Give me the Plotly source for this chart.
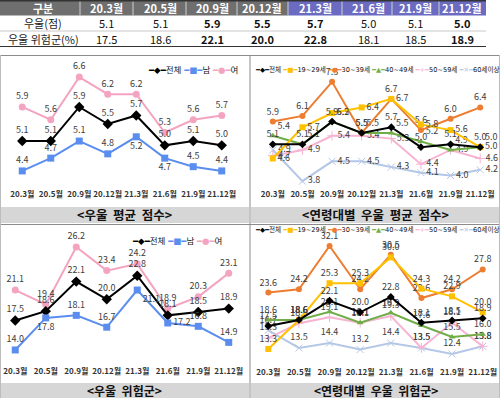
import plotly.graph_objects as go

W, H = 500, 398
def X(p): return p / W
def Y(p): return 1 - p / H

FONT = "Noto Sans CJK KR"
LEGFONT = "DejaVu Sans, Noto Sans CJK KR"

# ---------------- data ----------------
dates = ['20.3월', '20.5월', '20.9월', '20.12월', '21.3월', '21.6월', '21.9월', '21.12월']
age_groups = ['19~29세', '30~39세', '40~49세', '50~59세', '60세이상']

score_total  = [5.1, 5.1, 5.9, 5.5, 5.7, 5.0, 5.1, 5.0]
score_male   = [4.4, 4.7, 5.1, 4.8, 5.2, 4.7, 4.5, 4.4]
score_female = [5.9, 5.6, 6.6, 6.2, 6.2, 5.3, 5.6, 5.7]

risk_total  = [17.5, 18.6, 22.1, 20.0, 22.8, 18.1, 18.5, 18.9]
risk_male   = [14.0, 17.8, 18.1, 16.7, 21.1, 17.2, 16.8, 14.9]
risk_female = [21.1, 19.4, 26.2, 23.4, 24.2, 18.9, 20.3, 23.1]

score_20s = [4.6, 5.7, 6.2, 6.4, 6.7, 5.8, 5.6, 5.0]
score_30s = [5.9, 6.1, 7.3, 5.5, 6.7, 5.6, 6.0, 6.4]
score_40s = [5.4, 5.1, 5.9, 5.5, 5.5, 5.2, 4.9, 5.0]
score_50s = [4.7, 4.9, 5.4, 5.4, 5.3, 4.4, 4.9, 4.6]
score_60s = [4.9, 3.8, 4.5, 4.5, 4.3, 4.1, 4.0, 4.2]

risk_20s = [13.3, 18.6, 25.3, 25.3, 30.0, 24.3, 22.9, 20.0]
risk_30s = [23.6, 24.2, 32.1, 24.2, 30.5, 22.6, 24.2, 27.8]
risk_40s = [18.6, 18.6, 20.1, 18.1, 19.9, 17.6, 15.5, 16.0]
risk_50s = [15.3, 18.0, 19.1, 18.1, 19.3, 13.5, 18.1, 13.8]
risk_60s = [16.7, 13.5, 14.4, 13.2, 14.4, 13.5, 12.4, 13.8]

table_header = ['구분'] + dates
row_labels = ['우울(점)', '우울 위험군(%)']
bold_cols = [2, 3, 4, 7]

# ---------------- styles ----------------
C_TOTAL = '#000000'
C_MALE = '#5b8def'
C_FEMALE = '#f4a3c1'
C_20 = '#ffc000'
C_30 = '#ed7d31'
C_40 = '#70ad47'
C_50 = '#f7b3d2'
C_60 = '#b4c7e7'
TXT = '#404040'

fig = go.Figure()

def add(xa, ya, y, color, symbol, pos, msize=7, name=''):
    fig.add_trace(go.Scatter(
        x=dates, y=y, mode='lines+markers+text', name=name,
        line=dict(color=color, width=2),
        marker=dict(color=color, symbol=symbol, size=msize),
        text=[f'{v:.1f}' for v in y], textposition=pos,
        textfont=dict(family=FONT, size=9, color=TXT),
        cliponaxis=False, xaxis=xa, yaxis=ya, showlegend=False))

# top-left
add('x', 'y', score_female, C_FEMALE, 'circle', 'top center')
add('x', 'y', score_total, C_TOTAL, 'diamond', 'top center', 8)
add('x', 'y', score_male, C_MALE, 'square', ['top center', 'top center', 'top center', 'top center',
                                              'bottom center', 'bottom center', 'top center', 'top center'])
# top-right
add('x2', 'y2', score_60s, C_60, 'x-thin-open', 'middle right', 7)
add('x2', 'y2', score_50s, C_50, 'cross-thin-open', 'middle right', 7)
add('x2', 'y2', score_40s, C_40, 'triangle-up', 'top right', 6)
add('x2', 'y2', score_30s, C_30, 'circle', 'top center', 6)
add('x2', 'y2', score_20s, C_20, 'square', 'middle right', 6)
add('x2', 'y2', score_total, C_TOTAL, 'diamond', 'top center', 6)
# bottom-left
add('x3', 'y3', risk_female, C_FEMALE, 'circle', 'top center')
add('x3', 'y3', risk_total, C_TOTAL, 'diamond', 'top center', 8)
add('x3', 'y3', risk_male, C_MALE, 'square', ['top center', 'bottom center', 'top center', 'top center',
                                             'bottom right', 'middle right', 'top center', 'top center'])
# bottom-right
add('x4', 'y4', risk_60s, C_60, 'x-thin-open', 'top center', 7)
add('x4', 'y4', risk_50s, C_50, 'cross-thin-open', 'top center', 7)
add('x4', 'y4', risk_40s, C_40, 'triangle-up', 'top center', 6)
add('x4', 'y4', risk_30s, C_30, 'circle', 'top center', 6)
add('x4', 'y4', risk_20s, C_20, 'square', 'top center', 6)
add('x4', 'y4', risk_total, C_TOTAL, 'diamond', 'top center', 6)

def xax(d, anchor):
    return dict(domain=[X(d[0]), X(d[1])], type='category', range=[-0.5, 7.5], anchor=anchor,
                showgrid=False, zeroline=False, showline=False, ticks='', tickangle=0,
                tickfont=dict(family=FONT, size=8, color='#333333', weight='bold'), fixedrange=True)

def yax(d, r, anchor):
    return dict(domain=[Y(d[1]), Y(d[0])], range=r, visible=False, showgrid=False, anchor=anchor,
                zeroline=False, fixedrange=True)

fig.update_layout(
    width=W, height=H, margin=dict(l=0, r=0, t=0, b=0),
    paper_bgcolor='white', plot_bgcolor='rgba(0,0,0,0)',
    xaxis=xax((8, 236), 'y'), yaxis=yax((60, 188), [4.0, 7.0], 'x'),
    xaxis2=xax((258, 495), 'y2'), yaxis2=yax((62, 188), [3.56, 8.0], 'x2'),
    xaxis3=xax((0, 244), 'y3'), yaxis3=yax((235, 365), [12.22, 27.62], 'x3'),
    xaxis4=xax((253, 498), 'y4'), yaxis4=yax((236, 366), [10.21, 33.9], 'x4'),
    font=dict(family=FONT),
)

shapes = []
annots = []

def rect(x0, y0, x1, y1, fill, line=None, lw=0):
    shapes.append(dict(type='rect', xref='paper', yref='paper', x0=X(x0), x1=X(x1), y0=Y(y1), y1=Y(y0),
                       fillcolor=fill, line=dict(width=lw, color=line or fill), layer='below'))

def hline(x0, x1, y, color, w=1):
    shapes.append(dict(type='line', xref='paper', yref='paper', x0=X(x0), x1=X(x1), y0=Y(y), y1=Y(y),
                       line=dict(color=color, width=w)))

def vline(x, y0, y1, color, w=1):
    shapes.append(dict(type='line', xref='paper', yref='paper', x0=X(x), x1=X(x), y0=Y(y0), y1=Y(y1),
                       line=dict(color=color, width=w)))

def text(x, y, s, size=11, color='#222', bold=False, xanchor='center', family=FONT):
    annots.append(dict(xref='paper', yref='paper', x=X(x), y=Y(y), text=s, showarrow=False,
                       xanchor=xanchor, yanchor='middle',
                       font=dict(family=family, size=size, color=color, weight='bold' if bold else 'normal')))

# ---------------- table ----------------
col_centers = [43, 106, 160, 212, 262, 315, 368, 415, 462]
bounds = [0, 80, 133, 186, 237, 288, 342, 392, 439, 486]
for i in range(9):
    fill = '#6f6f6f' if i < 5 else '#6b6bc2'
    rect(bounds[i], 1, bounds[i + 1], 15.5, fill)
for i in range(1, 9):
    vline(bounds[i], 1, 15.5, '#d0d0d0', 1)
hline(0, 486, 0.8, '#333333', 1.5)
hline(0, 486, 31, '#c8c8c8', 1)
hline(0, 486, 46.5, '#333333', 1)
for i, h in enumerate(table_header):
    text(col_centers[i], 8.5, h, size=11, color='white', bold=True)
rows = [score_total, risk_total]
for r, vals in enumerate(rows):
    yy = 23.5 + r * 15.2
    text(col_centers[0], yy, row_labels[r], size=11, color='#222')
    for j, v in enumerate(vals):
        text(col_centers[j + 1], yy, f'{v:.1f}', size=11, color='#111', bold=(j in bold_cols))

# ---------------- panel frames ----------------
rect(0, 207, 249, 223, '#d6d6d6')
rect(251, 207, 500, 223, '#d6d6d6')
rect(0, 383, 249, 398, '#d6d6d6')
rect(251, 383, 500, 398, '#d6d6d6')
hline(0, 500, 55.5, '#8c8c8c', 1)
hline(0, 500, 224.5, '#8c8c8c', 1)
vline(250, 55, 398, '#8c8c8c', 1)
vline(0.5, 55, 398, '#bdbdbd', 1)
vline(499.5, 55, 398, '#bdbdbd', 1)

text(124.5, 215, '&lt;우울  평균  점수&gt;', size=12.5, color='#111', bold=True)
text(375.5, 215, '&lt;연령대별  우울  평균  점수&gt;', size=12.5, color='#111', bold=True)
text(124.5, 390.5, '&lt;우울  위험군&gt;', size=12, color='#111', bold=True)
text(375.5, 390.5, '&lt;연령대별  우울  위험군&gt;', size=12, color='#111', bold=True)

# ---------------- legends ----------------
def leg_item(color, sym, label):
    return f"<span style='color:{color}'>━{sym}━</span>{label}"

gender_leg = ' '.join([leg_item(C_TOTAL, '◆', '전체'), leg_item(C_MALE, '■', '남'),
                       leg_item(C_FEMALE, '●', '여')])
age_leg = ' '.join([leg_item(C_TOTAL, '◆', '전체'), leg_item(C_20, '■', age_groups[0]),
                    leg_item(C_30, '●', age_groups[1]), leg_item(C_40, '▲', age_groups[2]),
                    leg_item(C_50, '+', age_groups[3]), leg_item(C_60, '✕', age_groups[4])])
text(193, 70, gender_leg, size=8.5, color='#111', family=LEGFONT)
text(177, 241, gender_leg, size=8.5, color='#111', family=LEGFONT)
text(253, 69, age_leg, size=6.6, color='#111', family=LEGFONT, xanchor='left')
text(253, 230, age_leg, size=6.6, color='#111', family=LEGFONT, xanchor='left')

fig.update_layout(shapes=shapes, annotations=annots)
fig.write_html('out.html', config={'displayModeBar': False},
               post_script="document.body.style.margin='0';document.body.style.overflow='hidden';")
